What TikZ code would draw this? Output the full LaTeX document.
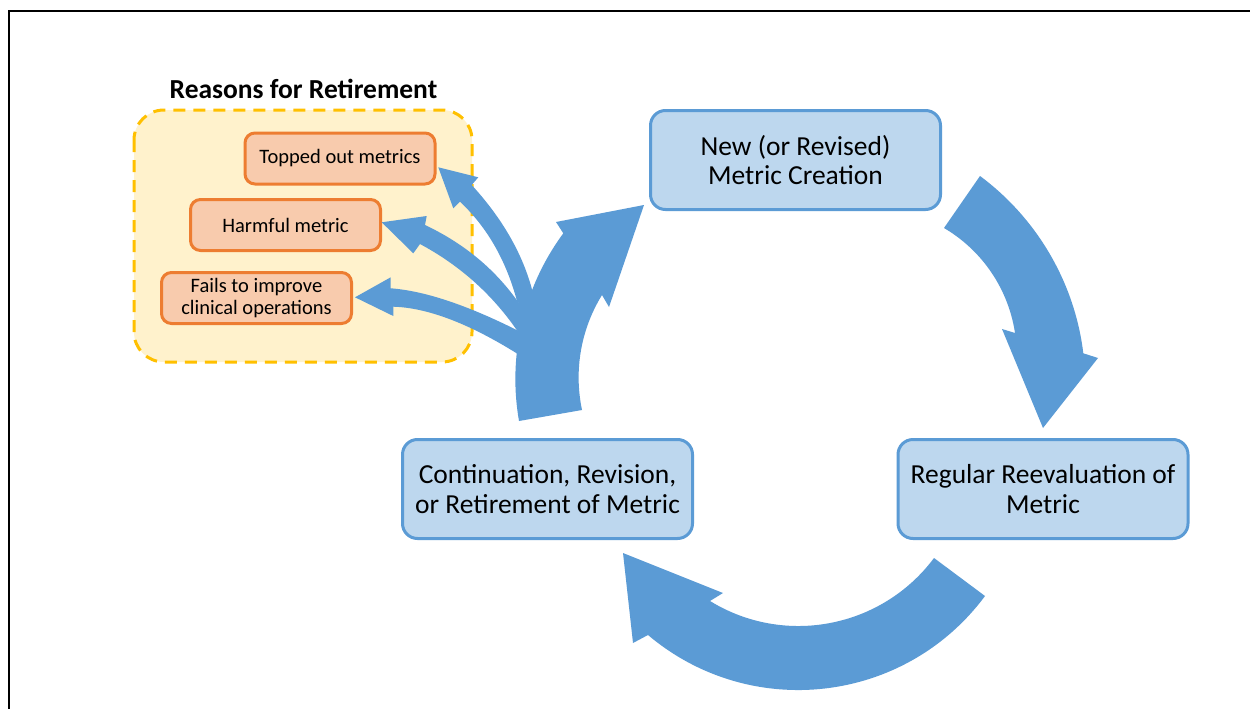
\documentclass[tikz,border=0pt]{standalone}
\usepackage{fontspec}
\setmainfont{Carlito}
\definecolor{flowblue}{HTML}{5B9BD5}
\definecolor{stagefill}{HTML}{BDD7EE}
\definecolor{reasonline}{HTML}{ED7D31}
\definecolor{reasonfill}{HTML}{F8CBAD}
\definecolor{groupline}{HTML}{FFC000}
\definecolor{groupfill}{HTML}{FFF2CC}
\tikzset{
  stage/.style={draw=flowblue, fill=stagefill, line width=3pt, rounded corners=15pt,
    minimum width=290pt, minimum height=99pt, align=center, inner sep=0pt,
    font=\fontsize{27.5}{29.5}\selectfont},
  reason/.style={draw=reasonline, fill=reasonfill, line width=3pt, rounded corners=10pt,
    minimum width=190pt, minimum height=51pt, align=center, inner sep=0pt,
    font=\fontsize{20.5}{22}\selectfont},
  group/.style={draw=groupline, fill=groupfill, line width=3pt, rounded corners=30pt,
    dash pattern=on 12pt off 8pt},
  flow/.style={fill=flowblue, draw=none}
}
\begin{document}
\begin{tikzpicture}[x=1pt,y=-1pt]
\useasboundingbox (0,0) rectangle (1250,709);
\clip (0,0) rectangle (1250,709);
\fill[white] (0,0) rectangle (1250,709);
% outer frame
\draw[line width=2pt, black] (9,11) rectangle (1280,740);

% group of retirement reasons
\node[font=\fontsize{27.5}{30}\selectfont\bfseries] (title) at (303.5,89) {Reasons for Retirement};
\path[group] (134,110) rectangle (472,362);
\node[reason] (topped) at (340,158.5) {Topped out metrics};
\node[reason] (harmful) at (285.5,225) {Harmful metric};
\node[reason] (fails) at (256.5,298) {Fails to improve\\clinical operations};

% the three stages of the cycle
\node[stage] (create) at (795.5,160) {New (or Revised)\\Metric Creation};
\node[stage] (reeval) at (1043,489) {Regular Reevaluation of\\Metric};
\node[stage] (cont) at (547.5,489) {Continuation, Revision,\\or Retirement of Metric};

% arrow tips
\coordinate (tipA) at (1043,428);
\coordinate (tipB) at (623,553);
\coordinate (tipC) at (644,205);
\coordinate (tipT) at (438.3,167.3);
\coordinate (tipH) at (381.7,222.3);
\coordinate (tipF) at (355,297.3);

% creation -> reevaluation
\fill[flow] (980,176) .. controls (1037.0,218.3) and (1074.8,282.8) .. (1083.3,353.3)
  -- (1098,358) -- (tipA) -- (1002,329) -- (1015,333)
  .. controls (1008.4,289.1) and (982.3,250.5) .. (944,228) -- cycle;

% reevaluation -> continuation
\fill[flow] (934,558) .. controls (881.7,628.1) and (784.5,646.8) .. (710,601)
  -- (723,593) -- (tipB) -- (633,643) -- (648,635)
  .. controls (750.7,721.7) and (904.9,703.9) .. (985,596) -- cycle;

% continuation -> creation
\fill[flow] (519,421) .. controls (507.5,355.1) and (523.6,287.2) .. (563.3,233.3)
  -- (556,222) -- (tipC) -- (609,307) -- (602,295)
  .. controls (580.8,329.4) and (573.7,370.4) .. (582,410) -- cycle;

% branches towards the retirement reasons
\fill[flow] (540,330) -- (531.7,288.3) .. controls (521.8,252.4) and (501.8,217.9) .. (471.7,185)
  -- (478.3,177.3) -- (tipT) -- (453.3,208.3) -- (460,201.7)
  .. controls (486.9,227.0) and (505.8,259.8) .. (516.7,300) -- (530,320) -- cycle;
\fill[flow] (530,315) -- (516.7,300) .. controls (493.6,268) and (463.1,243) .. (425,225)
  -- (426.7,216) -- (tipH) -- (413.3,253.3) -- (420,244)
  .. controls (459.3,265.1) and (491.6,293.7) .. (516.7,330) -- (535,345) -- cycle;
\fill[flow] (535,335) -- (516.7,330) .. controls (466.1,304.7) and (424.1,290.8) .. (390.7,288.3)
  -- (390.7,277.3) -- (tipF) -- (393.3,316) -- (393.3,306.7)
  .. controls (427.2,307.7) and (468.3,323.2) .. (516.7,353.3) -- (535,365) -- cycle;
\end{tikzpicture}
\end{document}
